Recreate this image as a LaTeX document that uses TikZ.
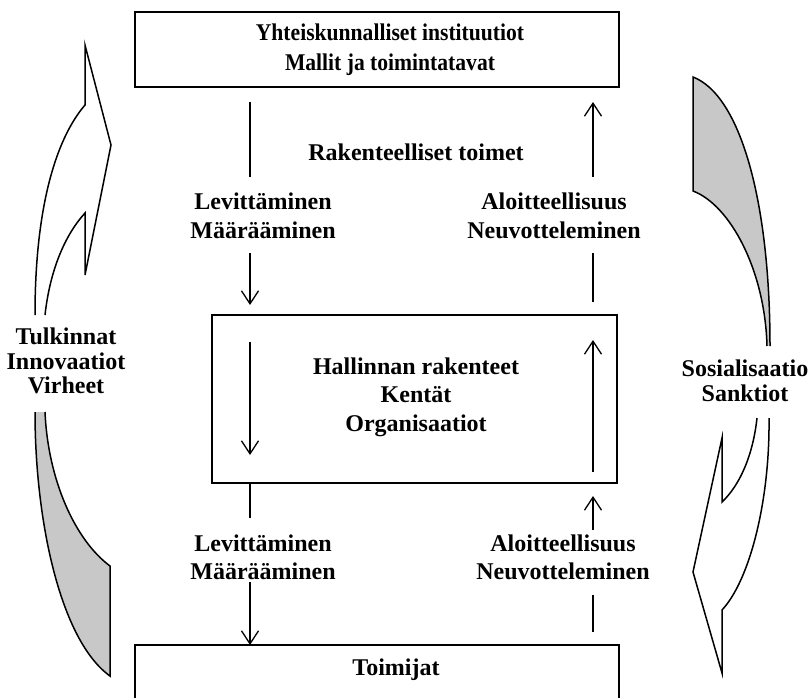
\documentclass[tikz,border=0pt]{standalone}
\usepackage{fontspec}
\setmainfont{Liberation Serif}
\newfontfamily\narrowserif[FakeStretch=0.9]{Liberation Serif}
\usetikzlibrary{arrows.meta}
\definecolor{shade}{RGB}{200,200,200}
\begin{document}
\begin{tikzpicture}[x=1pt,y=-1pt,
  box/.style={draw,line width=1.7pt,inner sep=0pt},
  lbl/.style={font=\fontsize{24}{28.5}\selectfont\bfseries,align=center,inner sep=0pt},
  toplbl/.style={font=\narrowserif\fontsize{24}{30}\selectfont\bfseries,align=center,inner sep=0pt},
  side/.style={font=\fontsize{24}{24.5}\selectfont\bfseries,align=center,inner sep=0pt},
  flow/.style={line width=1.3pt},
  arr/.style={flow,-{Straight Barb[length=13pt,width=17pt]}},
  blk/.style={line width=1.5pt,line join=miter}]
\useasboundingbox (0,0) rectangle (809,697);
% boxes
\node[box,minimum width=484pt,minimum height=75pt] (top) at (377,49.5) {};
\node[toplbl] (toptext) at (390,50) {Yhteiskunnalliset instituutiot\\Mallit ja toimintatavat};
\node[box,minimum width=405pt,minimum height=168pt] (mid) at (414.5,399) {};
\node[lbl] (midtext) at (416,397) {Hallinnan rakenteet\\Kentät\\Organisaatiot};
\node[box,minimum width=484pt,minimum height=80pt] (bot) at (377,685) {};
\node[lbl] (bottext) at (396,670) {Toimijat};
% labels
\node[lbl] (rak) at (416,152) {Rakenteelliset toimet};
\node[lbl] (lev1) at (263,216) {Levittäminen\\Määrääminen};
\node[lbl] (alo1) at (554,216) {Aloitteellisuus\\Neuvotteleminen};
\node[lbl] (lev2) at (263,557.5) {Levittäminen\\Määrääminen};
\node[lbl] (alo2) at (563,557.5) {Aloitteellisuus\\Neuvotteleminen};
\node[side] (lside) at (66,361) {Tulkinnat\\Innovaatiot\\Virheet};
\node[side] (rside) at (745,381) {Sosialisaatio\\Sanktiot};
% left column
\coordinate (L1a) at (250,102); \coordinate (L1b) at (250,177);
\coordinate (L2a) at (250,253); \coordinate (L2b) at (250,305);
\coordinate (L3a) at (250,342); \coordinate (L3b) at (250,455);
\coordinate (L4a) at (250,483); \coordinate (L4b) at (250,518);
\coordinate (L5a) at (250,582); \coordinate (L5b) at (250,645);
\draw[flow] (L1a) -- (L1b);
\draw[arr] (L2a) -- (L2b);
\draw[arr] (L3a) -- (L3b);
\draw[flow] (L4a) -- (L4b);
\draw[arr] (L5a) -- (L5b);
% right column
\coordinate (R1a) at (593,177); \coordinate (R1b) at (593,102);
\coordinate (R2a) at (593,302); \coordinate (R2b) at (593,253);
\coordinate (R3a) at (593,472); \coordinate (R3b) at (593,340);
\coordinate (R4a) at (593,530); \coordinate (R4b) at (593,496);
\coordinate (R5a) at (593,632); \coordinate (R5b) at (593,595);
\draw[arr] (R1a) -- (R1b);
\draw[flow] (R2a) -- (R2b);
\draw[arr] (R3a) -- (R3b);
\draw[arr] (R4a) -- (R4b);
\draw[flow] (R5a) -- (R5b);
% side block arrows
\path[blk,draw,fill=white] (35,315) .. controls (35,210) and (55,140) .. (85,105) -- (85,45) -- (111,145) -- (85,275) -- (85,213) .. controls (65,235) and (50,270) .. (45,315);
\path[blk,draw,fill=shade] (35,412) .. controls (35,520) and (60,640) .. (110,676) -- (110,566) .. controls (75,540) and (48,480) .. (45,412);
\path[blk,draw,fill=shade] (767,346) .. controls (765,270) and (730,205) .. (693,191) -- (693,77) .. controls (740,95) and (770,200) .. (770,346);
\path[blk,draw,fill=white] (769,418) .. controls (770,500) and (750,580) .. (722,610) -- (722,673) -- (693,572) -- (722,438) -- (722,502) .. controls (740,485) and (753,455) .. (757,418);
\end{tikzpicture}
\end{document}
